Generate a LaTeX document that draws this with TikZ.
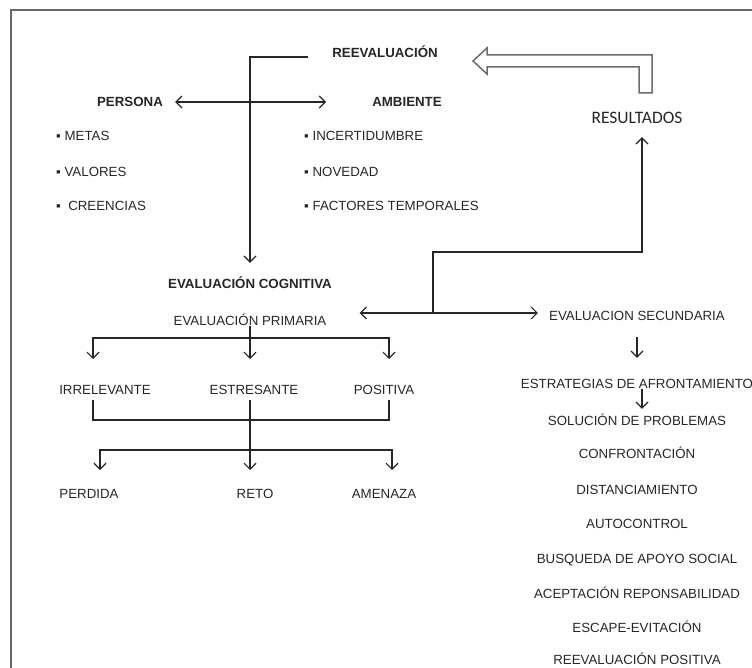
\documentclass[tikz,border=0pt]{standalone}
\usepackage{fontspec}
\setmainfont{Liberation Sans}
\newfontfamily\resfont{Carlito}
\usetikzlibrary{arrows.meta}
\begin{document}
\begin{tikzpicture}[x=1pt,y=-1pt,
    txt/.style={font=\fontsize{13.3}{15}\selectfont,text=black!85,inner sep=1pt,text height=10pt,text depth=0pt},
    btxt/.style={txt,font=\fontsize{13.3}{15}\selectfont\bfseries},
    item/.style={txt,anchor=west},
    ln/.style={draw=black!85,line width=1.2pt},
    arr/.style={ln,-{Straight Barb[length=6pt,width=12pt]}},
    darr/.style={ln,{Straight Barb[length=6pt,width=12pt]}-{Straight Barb[length=6pt,width=12pt]}}]
    \useasboundingbox (0,0) rectangle (752,668);
    \draw[gray!80!black,line width=2pt] (11,668) -- (11,10) -- (752,10);

    % top part
    \node[btxt] (reev) at (385,53) {REEVALUACIÓN};
    \node[btxt] (pers) at (130,102) {PERSONA};
    \node[btxt] (amb) at (407,102) {AMBIENTE};
    \node[txt,font=\resfont\fontsize{17.5}{20}\selectfont,text height=12pt] (res) at (637,118) {RESULTADOS};
    \node[item] (metas) at (55,136) {▪ METAS};
    \node[item] (valores) at (55,172) {▪ VALORES};
    \node[item] (creen) at (55,206) {▪ \ CREENCIAS};
    \node[item] (incert) at (303,136) {▪ INCERTIDUMBRE};
    \node[item] (noved) at (303,172) {▪ NOVEDAD};
    \node[item] (factor) at (303,206) {▪ FACTORES TEMPORALES};

    % hollow arrow back to REEVALUACION
    \draw[gray!85!black,line width=1.5pt,fill=white] (473,61) -- (487,48) -- (487,55) -- (652,55)
        -- (652,93) -- (639,93) -- (639,67) -- (487,67) -- (487,74) -- cycle;

    % evaluacion
    \node[btxt] (evcog) at (250,283) {EVALUACIÓN COGNITIVA};
    \node[txt] (evprim) at (250,320) {EVALUACIÓN PRIMARIA};
    \node[txt] (evsec) at (637,315) {EVALUACION SECUNDARIA};

    \coordinate (reevL) at (308,57);
    \draw[arr,shorten >=14pt] (reevL) -| (evcog.north);
    \draw[darr,shorten <=11pt,shorten >=45pt] (pers.east) -- (amb.west);

    \coordinate (lnk) at (433,313);
    \coordinate (bend) at (642,252);
    \draw[darr,shorten <=32pt,shorten >=10pt] (evprim.east |- lnk) -- (evsec.west |- lnk);
    \draw[arr,shorten >=12pt] (lnk) |- (bend) -- (bend |- res.south);

    % primaria tree
    \node[txt] (irr) at (105,389) {IRRELEVANTE};
    \node[txt] (estr) at (254,389) {ESTRESANTE};
    \node[txt] (pos) at (384,389) {POSITIVA};
    \node[txt] (perd) at (89,493) {PERDIDA};
    \node[txt] (reto) at (255,493) {RETO};
    \node[txt] (amen) at (384,493) {AMENAZA};

    \coordinate (j1) at (250,338);
    \coordinate (t1) at (93,359);
    \coordinate (t2) at (250,359);
    \coordinate (t3) at (389,359);
    \draw[ln] (evprim.south) -- (j1);
    \draw[arr] (j1) -| (t1);
    \draw[arr] (j1) -- (t2);
    \draw[arr] (j1) -| (t3);

    \coordinate (b3) at (389,420);
    \draw[ln,shorten <=5pt,shorten >=5pt] (t1 |- irr.south) |- (b3) -- (t3 |- pos.south);

    \coordinate (j2) at (250,450);
    \coordinate (u1) at (100,470);
    \coordinate (u2) at (250,470);
    \coordinate (u3) at (392,470);
    \draw[arr,shorten <=5pt] (estr.south -| j2) -- (u2);
    \draw[arr] (j2) -| (u1);
    \draw[arr] (j2) -| (u3);

    % secundaria list
    \node[txt] (estrat) at (637,383) {ESTRATEGIAS DE AFRONTAMIENTO};
    \node[txt] (sol) at (637,420) {SOLUCIÓN DE PROBLEMAS};
    \node[txt] (confr) at (637,453) {CONFRONTACIÓN};
    \node[txt] (dist) at (637,489) {DISTANCIAMIENTO};
    \node[txt] (autoc) at (637,523) {AUTOCONTROL};
    \node[txt] (busq) at (637,558) {BUSQUEDA DE APOYO SOCIAL};
    \node[txt] (acep) at (637,593) {ACEPTACIÓN REPONSABILIDAD};
    \node[txt] (escap) at (637,627) {ESCAPE-EVITACIÓN};
    \node[txt] (reevp) at (637,659) {REEVALUACIÓN POSITIVA};

    \draw[arr,shorten <=16pt,shorten >=19pt] (evsec.south) -- (estrat.north);
    \draw[arr,shorten >=5pt] ([xshift=5pt]estrat.south) -- ([xshift=5pt]sol.north);
\end{tikzpicture}
\end{document}
